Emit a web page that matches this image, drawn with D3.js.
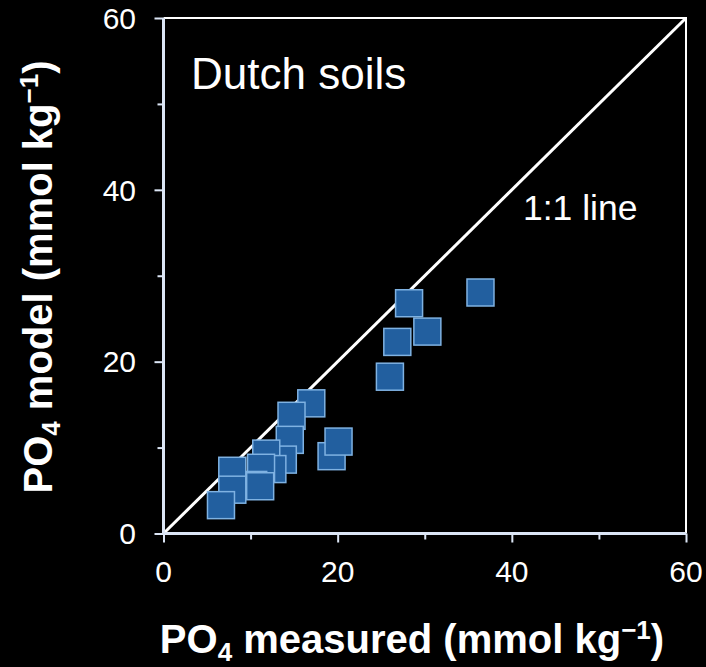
<!DOCTYPE html>
<html><head><meta charset="utf-8">
<script src="https://cdn.jsdelivr.net/npm/d3@7"></script>
<style>html,body{margin:0;padding:0;background:#000;}svg{display:block;}</style>
</head><body>
<svg id="c" width="706" height="667"></svg>
<script>
const measured = [36.4, 28.2, 30.3, 26.85, 26.0, 16.97, 14.7, 14.5, 13.7, 11.8, 12.5, 11.2, 10.3, 11.1, 7.9, 7.9, 6.6, 19.3, 20.1];
const model    = [28.05, 26.8, 23.5, 22.3, 18.25, 15.15, 13.7, 10.9, 8.6, 9.3, 7.5, 7.65, 5.65, 5.5, 7.3, 5.1, 3.3, 9.0, 10.7];
const majorTicks = [0, 20, 40, 60];
const minorTicks = [10, 30, 50];

const svg = d3.select("#c");
const x = d3.scaleLinear().domain([0, 60]).range([163.5, 686]);
const y = d3.scaleLinear().domain([0, 60]).range([533.5, 18]);
const axisCol = "#dce6f6";
const font = "'Liberation Sans', Arial, sans-serif";

// top & right border
svg.append("path").attr("d", `M${x(0)},${y(60)}H${x(60)}V${y(0)}`)
  .attr("fill","none").attr("stroke","#fff").attr("stroke-width",2);

// 1:1 line
svg.append("line").attr("x1",x(0)).attr("y1",y(0)).attr("x2",x(60)).attr("y2",y(60))
  .attr("stroke","#fff").attr("stroke-width",3);

// axes
const xAxis = d3.axisBottom(x).tickValues(majorTicks).tickSize(9).tickFormat("");
const xMinor = d3.axisBottom(x).tickValues(minorTicks).tickSize(6).tickFormat("");
const yAxis = d3.axisLeft(y).tickValues(majorTicks).tickSize(9).tickFormat("");
const yMinor = d3.axisLeft(y).tickValues(minorTicks).tickSize(6).tickFormat("");
function style(g){ g.select(".domain").attr("stroke",axisCol).attr("stroke-width",3);
  g.selectAll(".tick line").attr("stroke",axisCol).attr("stroke-width",2); }
svg.append("g").attr("transform",`translate(0,${y(0)})`).call(xMinor).call(style).select(".domain").remove();
svg.append("g").attr("transform",`translate(${x(0)},0)`).call(yMinor).call(style).select(".domain").remove();
svg.append("g").attr("transform",`translate(0,${y(0)})`).call(xAxis).call(g=>{style(g);g.select(".domain").attr("d",`M${x(0)},0H${x(60)}`);});
svg.append("g").attr("transform",`translate(${x(0)},0)`).call(yAxis).call(g=>{style(g);g.select(".domain").attr("d",`M0,${y(0)}V${y(60)}`);});

// tick labels
svg.append("g").selectAll("text").data(majorTicks).join("text")
  .attr("x", d=>x(d)).attr("y", 582).attr("text-anchor","middle")
  .attr("fill","#fff").style("font-family",font).style("font-size","30px").text(d=>d);
svg.append("g").selectAll("text").data(majorTicks).join("text")
  .attr("x", 136).attr("y", d=>y(d)).attr("dy","0.36em").attr("text-anchor","end")
  .attr("fill","#fff").style("font-family",font).style("font-size","30px").text(d=>d);

// points
const s = 27;
svg.append("g").selectAll("rect").data(measured.map((m,i)=>[m, model[i]])).join("rect")
  .attr("x", d=>x(d[0])-s/2).attr("y", d=>y(d[1])-s/2).attr("width", s).attr("height", s)
  .attr("fill","#225f9f").attr("stroke","#7fb2e2").attr("stroke-width",1.5);

// annotations
svg.append("text").attr("x",191).attr("y",89).attr("fill","#fff")
  .style("font-family",font).style("font-size","44px").text("Dutch soils");
svg.append("text").attr("x",523).attr("y",220).attr("fill","#fff")
  .style("font-family",font).style("font-size","35.5px").text("1:1 line");

// axis titles
function title(sel, main){
  sel.append("tspan").text("PO");
  sel.append("tspan").attr("dy","0.3em").style("font-size","0.65em").text("4");
  sel.append("tspan").attr("dy","-0.195em").text(" " + main + " (mmol kg");
  sel.append("tspan").attr("dy","-0.55em").style("font-size","0.65em").text("−1");
  sel.append("tspan").attr("dy","0.3575em").text(")");
}
const xt = svg.append("text").attr("x",412).attr("y",653).attr("text-anchor","middle")
  .attr("fill","#fff").style("font-family",font).style("font-size","40px").style("font-weight","bold");
title(xt, "measured");
const yt = svg.append("text").attr("transform","translate(52,277) rotate(-90)").attr("text-anchor","middle")
  .attr("fill","#fff").style("font-family",font).style("font-size","40px").style("font-weight","bold");
title(yt, "model");
</script>
</body></html>
